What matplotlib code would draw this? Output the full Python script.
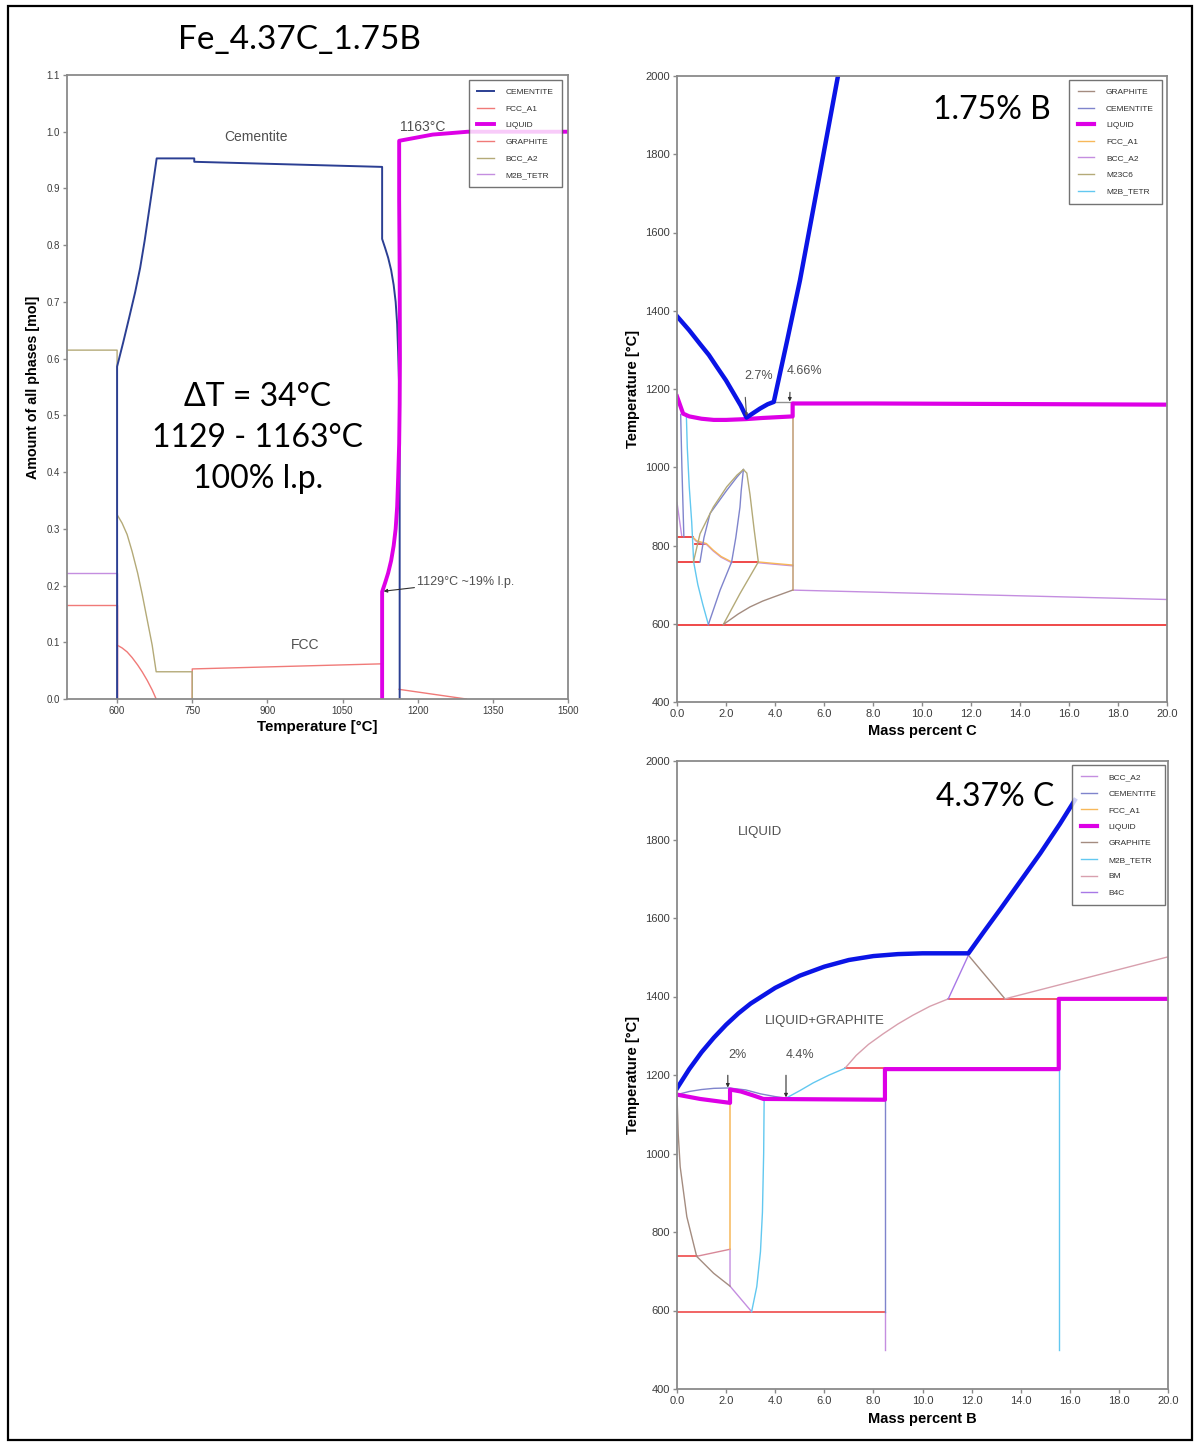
import matplotlib
matplotlib.use("Agg")
import matplotlib.pyplot as plt
from matplotlib.lines import Line2D
from matplotlib.patches import Rectangle

plt.rcParams['font.family'] = ['Liberation Sans', 'DejaVu Sans']

W, H = 1195, 1443

# ---------------- colours ----------------
C_NAVY = "#2b3f93"
C_SALMON = "#f07a78"
C_MAG = "#dd00e6"
C_OLIVE = "#b4aa78"
C_VIOLET = "#c48ee0"
C_BLUE = "#0a14e6"
C_SLATE = "#7f84cc"
C_ORANGE = "#f7b85a"
C_CYAN = "#62c8f0"
C_GRAPH = "#a48c80"
C_RED = "#ee3a3a"
C_TAN = "#c09a72"
C_BM = "#d8a0ae"
C_B4C = "#a878e6"

# ---------------- left panel: amount of phases vs temperature ----------------
cem_T = [600, 600, 612, 624, 636, 646, 655, 664, 672, 679, 754, 754, 1129, 1129, 1135, 1141,
         1147, 1152, 1156, 1159, 1161, 1163, 1164, 1164]
cem_y = [0, 0.586, 0.628, 0.672, 0.717, 0.76, 0.808, 0.862, 0.91, 0.953, 0.953, 0.947, 0.938,
         0.811, 0.795, 0.778, 0.756, 0.73, 0.70, 0.661, 0.61, 0.55, 0.48, 0]
liq_T = [1129, 1129, 1135, 1141, 1147, 1152, 1156, 1159, 1161, 1163, 1164, 1164.5, 1164,
         1163, 1163, 1230, 1300, 1500]
liq_y = [0, 0.189, 0.205, 0.222, 0.244, 0.27, 0.30, 0.339, 0.39, 0.45, 0.52, 0.6, 0.75,
         0.88, 0.984, 0.995, 1.0, 1.0]
bcc_T = [500, 600, 600, 610, 620, 630, 641, 650, 660, 670, 678, 750, 750]
bcc_y = [0.615, 0.615, 0.325, 0.31, 0.29, 0.26, 0.222, 0.185, 0.14, 0.095, 0.048, 0.048, 0]
gra1_T = [500, 600, 600]
gra1_y = [0.165, 0.165, 0]
gra2_T = [600, 610, 620, 630, 641, 650, 660, 670, 678]
gra2_y = [0.095, 0.09, 0.083, 0.073, 0.06, 0.048, 0.033, 0.016, 0]
gra3_T = [1163, 1297]
gra3_y = [0.017, 0]
fcc_T = [750, 750, 1129, 1129]
fcc_y = [0, 0.053, 0.062, 0]
m2b_T = [500, 600, 600]
m2b_y = [0.222, 0.222, 0]

# ---------------- top right: isopleth at 1.75 % B ----------------
liqus_C = [0, 0.5, 0.94, 1.3, 1.62, 2.0, 2.3, 2.6, 2.84, 3.1, 3.39, 3.7, 3.95, 4.5, 5.02, 5.8, 6.57]
liqus_T = [1386, 1350, 1315, 1287, 1257, 1222, 1190, 1158, 1127, 1138, 1150, 1161, 1167,
           1325, 1478, 1740, 2000]
liqC_C = [0, 0.25, 0.5, 1.0, 1.5, 2.0, 2.8, 3.5, 4.72, 4.72, 8, 12, 16, 20]
liqC_T = [1181, 1137, 1130, 1124, 1121, 1121, 1123, 1126, 1130, 1163, 1163, 1162, 1161, 1160]
graC_h_C = [3.95, 4.72]
graC_h_T = [1167, 1167]
graC_c_C = [1.89, 2.5, 2.98, 3.5, 3.93, 4.72]
graC_c_T = [598, 625, 643, 658, 668, 686]
tanC_C = [4.72, 4.72]
tanC_T = [1130, 686]
bccC_C = [4.72, 20]
bccC_T = [686, 662]
bccC2_C = [0, 0.19]
bccC2_T = [910, 826]
fccC1_C = [0.64, 0.8, 1.2, 1.48, 1.8, 2.23]
fccC1_T = [822, 812, 805, 788, 772, 758]
fccC2_C = [3.32, 4.0, 4.72]
fccC2_T = [758, 754, 750]
redC = [  # (C0, C1, T)
    (0, 0.64, 822), (0, 0.91, 758), (0.73, 1.18, 805), (2.23, 3.32, 758), (0, 20, 597)]
m2bC_C = [0.38, 0.42, 0.5, 0.6, 0.68, 0.85, 1.05, 1.28]
m2bC_T = [1137, 1050, 950, 860, 758, 700, 650, 598]
cemC_v_C = [0.15, 0.2, 0.28]
cemC_v_T = [1135, 1000, 822]
cemC_l_C = [0.94, 1.1, 1.35, 2.03, 2.45, 2.71]
cemC_l_T = [758, 820, 882, 941, 975, 994]
cemC_r_C = [2.71, 2.62, 2.57, 2.4, 2.23, 1.76, 1.28]
cemC_r_T = [994, 940, 898, 820, 758, 686, 598]
m23_l_C = [0.67, 0.94, 1.48, 2.03, 2.45, 2.71]
m23_l_T = [758, 830, 898, 950, 980, 994]
m23_r_C = [2.71, 2.85, 2.98, 3.15, 3.32, 2.57, 1.89]
m23_r_T = [994, 985, 930, 840, 758, 677, 598]

# ---------------- bottom right: isopleth at 4.37 % C ----------------
liqusB_B = [0, 0.5, 1, 1.5, 2, 2.5, 3, 4, 5, 6, 7, 8, 9, 10, 11.87,
            12.5, 13.2, 14, 14.8, 15.6, 16.2]
liqusB_T = [1166, 1215, 1258, 1295, 1328, 1357, 1382, 1422, 1453, 1476, 1493, 1503, 1508,
            1510, 1510, 1565, 1625, 1695, 1765, 1840, 1900]
liqB_B = [0, 0.94, 2.16, 2.16, 2.6, 3.1, 3.52, 8.47, 8.47, 15.55, 15.55, 20]
liqB_T = [1150, 1139, 1129, 1163, 1158, 1148, 1139, 1137, 1215, 1215, 1394, 1394]
cemB_arc_B = [0, 0.5, 1.0, 1.5, 2.1, 2.8, 3.4, 4.0, 4.47]
cemB_arc_T = [1150, 1158, 1163, 1166, 1167, 1162, 1152, 1145, 1141]
cemB_v_B = [8.47, 8.47]
cemB_v_T = [1137, 597]
m2bB1_B = [4.44, 5.0, 5.55, 6.2, 6.84]
m2bB1_T = [1141, 1160, 1180, 1200, 1217]
m2bB2_B = [3.55, 3.53, 3.48, 3.40, 3.25, 3.04]
m2bB2_T = [1139, 1000, 850, 750, 661, 597]
m2bB3_B = [15.55, 15.55]
m2bB3_T = [1213, 500]
redB = [  # (B0, B1, T)
    (6.84, 8.47, 1217), (0, 8.47, 597), (0, 0.8, 740), (11.05, 15.55, 1394)]
fccB_B = [2.16, 2.16]
fccB_T = [1160, 756]
fccB2_B = [0.8, 2.16]
fccB2_T = [738, 756]
bccB1_B = [2.16, 2.16, 3.04]
bccB1_T = [756, 662, 597]
bccB2_B = [8.47, 8.47]
bccB2_T = [597, 500]
graB1_B = [0, 0.05, 0.13, 0.4, 0.8, 1.49, 2.16]
graB1_T = [1150, 1050, 966, 839, 738, 695, 662]
graB2_B = [11.87, 13.36]
graB2_T = [1505, 1394]
bm1_B = [6.84, 7.3, 7.8, 8.4, 9.0, 9.6, 10.3, 11.05]
bm1_T = [1217, 1250, 1278, 1305, 1330, 1352, 1375, 1394]
bm2_B = [13.36, 20]
bm2_T = [1394, 1501]
b4c_B = [11.05, 11.87]
b4c_T = [1394, 1505]

TXT = "#3c3c3c"
SPINE = "#8a8a8a"

fig = plt.figure(figsize=(W / 100, H / 100), dpi=100)


def px_axes(l, t, r, b):
    return fig.add_axes([l / W, 1 - b / H, (r - l) / W, (b - t) / H])


def style(ax, fs):
    for s in ax.spines.values():
        s.set_color(SPINE)
        s.set_linewidth(1.3)
    ax.tick_params(direction="out", length=3, width=1, color=SPINE,
                   labelsize=fs, labelcolor=TXT, pad=2)


def legend(ax, entries, anchor):
    handles = [Line2D([], [], color=c, lw=lw) for _, c, lw in entries]
    lg = ax.legend(handles, [n for n, _, _ in entries], loc="upper right",
                   bbox_to_anchor=anchor, fontsize=6, frameon=True, fancybox=False,
                   handlelength=2.0, handletextpad=1.4, labelspacing=1.05,
                   borderpad=1.0, borderaxespad=0)
    lg.get_frame().set_edgecolor("#505050")
    lg.get_frame().set_linewidth(1.0)
    for t in lg.get_texts():
        t.set_color("#303030")
    return lg


# ---------- left panel ----------
ax = px_axes(67, 75, 568, 699)
style(ax, 7)
ax.plot(m2b_T, m2b_y, color=C_VIOLET, lw=1)
ax.plot(gra1_T, gra1_y, color=C_SALMON, lw=1)
ax.plot(gra2_T, gra2_y, color=C_SALMON, lw=1)
ax.plot(gra3_T, gra3_y, color=C_SALMON, lw=1)
ax.plot(fcc_T, fcc_y, color=C_SALMON, lw=1)
ax.plot(bcc_T, bcc_y, color=C_OLIVE, lw=1)
ax.plot(cem_T, cem_y, color=C_NAVY, lw=1.4)
ax.plot(liq_T, liq_y, color=C_MAG, lw=2.8)
ax.set_xlim(500, 1500)
ax.set_ylim(0, 1.1)
ax.set_xticks([600, 750, 900, 1050, 1200, 1350, 1500])
ax.set_yticks([i / 10 for i in range(12)])
ax.set_yticklabels([f"{i / 10:.1f}" for i in range(12)])
ax.set_xlabel("Temperature [°C]", fontsize=10.8, fontweight="bold", labelpad=3)
ax.set_ylabel("Amount of all phases [mol]", fontsize=10.3, fontweight="bold", labelpad=5)
ax.text(877, 0.99, "Cementite", fontsize=10, color="#505050", ha="center", va="center")
ax.text(976, 0.095, "FCC", fontsize=10, color="#505050", ha="center", va="center")
ax.text(1210, 1.009, "1163°C", fontsize=10, color="#505050", ha="center", va="center")
ax.annotate("1129°C ~19% l.p.", xy=(1132, 0.19), xytext=(1199, 0.207),
            fontsize=9, color="#505050", va="center", ha="left",
            arrowprops=dict(arrowstyle="-|>", color="#303030", lw=0.8,
                            mutation_scale=5, shrinkA=0, shrinkB=0))
ax.text(881, 0.46, "ΔT = 34°C\n1129 - 1163°C\n100% l.p.", fontsize=23, family="Lato",
        ha="center", va="center", linespacing=1.45, color="black")
legend(ax, [("CEMENTITE", C_NAVY, 1.4), ("FCC_A1", C_SALMON, 1), ("LIQUID", C_MAG, 2.8),
            ("GRAPHITE", C_SALMON, 1), ("BCC_A2", C_OLIVE, 1), ("M2B_TETR", C_VIOLET, 1)],
       (0.988, 0.992))

# ---------- top right panel ----------
ax = px_axes(677, 76, 1167, 702)
style(ax, 8)
for c0, c1, t in redC:
    ax.plot([c0, c1], [t, t], color=C_RED, lw=1.3)
ax.plot(bccC_C, bccC_T, color=C_VIOLET, lw=1)
ax.plot(bccC2_C, bccC2_T, color=C_VIOLET, lw=1)
ax.plot(fccC1_C, [t - 2 for t in fccC1_T], color=C_VIOLET, lw=1)
ax.plot(fccC2_C, [t - 2 for t in fccC2_T], color=C_VIOLET, lw=1)
ax.plot(fccC1_C, fccC1_T, color=C_ORANGE, lw=1)
ax.plot(fccC2_C, fccC2_T, color=C_ORANGE, lw=1)
ax.plot(m2bC_C, m2bC_T, color=C_CYAN, lw=1)
ax.plot(cemC_v_C, cemC_v_T, color=C_SLATE, lw=1)
ax.plot(cemC_l_C, cemC_l_T, color=C_SLATE, lw=1)
ax.plot(cemC_r_C, cemC_r_T, color=C_SLATE, lw=1)
ax.plot(m23_l_C, m23_l_T, color=C_OLIVE, lw=1)
ax.plot(m23_r_C, m23_r_T, color=C_OLIVE, lw=1)
ax.plot(graC_c_C, graC_c_T, color=C_GRAPH, lw=1)
ax.plot(graC_h_C, graC_h_T, color="#909090", lw=1)
ax.plot(tanC_C, tanC_T, color=C_TAN, lw=1.1)
ax.plot(liqC_C, liqC_T, color=C_MAG, lw=3)
ax.plot(liqus_C, liqus_T, color=C_BLUE, lw=3.2)
ax.set_xlim(0, 20)
ax.set_ylim(400, 2000)
ax.set_xticks(range(0, 21, 2))
ax.set_xticklabels([f"{v:.1f}" for v in range(0, 21, 2)])
ax.set_yticks(range(400, 2001, 200))
ax.set_xlabel("Mass percent C", fontsize=10.5, fontweight="bold", labelpad=4)
ax.set_ylabel("Temperature [°C]", fontsize=10.5, fontweight="bold", labelpad=4)
ax.annotate("2.7%", xy=(2.84, 1130), xytext=(2.73, 1233), fontsize=9, color="#505050",
            ha="left", va="center",
            arrowprops=dict(arrowstyle="-|>", color="#505050", lw=0.8, mutation_scale=4,
                            shrinkA=9, shrinkB=0, relpos=(0, 0.5)))
ax.annotate("4.66%", xy=(4.6, 1168), xytext=(4.49, 1246), fontsize=9, color="#505050",
            ha="left", va="center",
            arrowprops=dict(arrowstyle="-|>", color="#303030", lw=0.8, mutation_scale=5,
                            shrinkA=9, shrinkB=0, relpos=(0.1, 0.5)))
ax.text(12.86, 1913, "1.75% B", fontsize=23, family="Lato", ha="center", va="center")
legend(ax, [("GRAPHITE", C_GRAPH, 1), ("CEMENTITE", C_SLATE, 1), ("LIQUID", C_MAG, 3),
            ("FCC_A1", C_ORANGE, 1), ("BCC_A2", C_VIOLET, 1), ("M23C6", C_OLIVE, 1),
            ("M2B_TETR", C_CYAN, 1)], (0.990, 0.994))

# ---------- bottom right panel ----------
ax = px_axes(677, 761, 1168, 1389)
style(ax, 8)
for b0, b1, t in redB:
    ax.plot([b0, b1], [t, t], color=C_RED, lw=1.1)
ax.plot(fccB2_B, fccB2_T, color="#d88898", lw=1)
ax.plot(bccB1_B, bccB1_T, color=C_VIOLET, lw=1)
ax.plot(bccB2_B, bccB2_T, color=C_VIOLET, lw=1)
ax.plot(fccB_B, fccB_T, color=C_ORANGE, lw=1.1)
ax.plot(graB1_B, graB1_T, color=C_GRAPH, lw=1)
ax.plot(graB2_B, graB2_T, color=C_GRAPH, lw=1)
ax.plot(bm1_B, bm1_T, color=C_BM, lw=1)
ax.plot(bm2_B, bm2_T, color=C_BM, lw=1)
ax.plot(b4c_B, b4c_T, color=C_B4C, lw=1)
ax.plot(m2bB1_B, m2bB1_T, color=C_CYAN, lw=1)
ax.plot(m2bB2_B, m2bB2_T, color=C_CYAN, lw=1)
ax.plot(m2bB3_B, m2bB3_T, color=C_CYAN, lw=1)
ax.plot(cemB_arc_B, cemB_arc_T, color=C_SLATE, lw=1)
ax.plot(cemB_v_B, cemB_v_T, color=C_SLATE, lw=1)
ax.plot(liqB_B, liqB_T, color=C_MAG, lw=3)
ax.plot(liqusB_B, liqusB_T, color=C_BLUE, lw=3.2)
ax.set_xlim(0, 20)
ax.set_ylim(400, 2000)
ax.set_xticks(range(0, 21, 2))
ax.set_xticklabels([f"{v:.1f}" for v in range(0, 21, 2)])
ax.set_yticks(range(400, 2001, 200))
ax.set_xlabel("Mass percent B", fontsize=10.5, fontweight="bold", labelpad=4)
ax.set_ylabel("Temperature [°C]", fontsize=10.5, fontweight="bold", labelpad=4)
ax.text(3.38, 1819, "LIQUID", fontsize=9.5, color="#505050", ha="center", va="center")
ax.text(6.03, 1338, "LIQUID+GRAPHITE", fontsize=9.5, color="#505050", ha="center", va="center")
ax.annotate("2%", xy=(2.07, 1168), xytext=(2.07, 1250), fontsize=9, color="#505050",
            ha="left", va="center",
            arrowprops=dict(arrowstyle="-|>", color="#303030", lw=0.8, mutation_scale=5,
                            shrinkA=8, shrinkB=0, relpos=(0, 0.5)))
ax.annotate("4.4%", xy=(4.44, 1143), xytext=(4.44, 1250), fontsize=9, color="#505050",
            ha="left", va="center",
            arrowprops=dict(arrowstyle="-|>", color="#303030", lw=0.8, mutation_scale=5,
                            shrinkA=8, shrinkB=0, relpos=(0, 0.5)))
ax.text(12.95, 1908, "4.37% C", fontsize=23, family="Lato", ha="center", va="center")
legend(ax, [("BCC_A2", C_VIOLET, 1), ("CEMENTITE", C_SLATE, 1), ("FCC_A1", C_ORANGE, 1),
            ("LIQUID", C_MAG, 3), ("GRAPHITE", C_GRAPH, 1), ("M2B_TETR", C_CYAN, 1),
            ("BM", C_BM, 1), ("B4C", C_B4C, 1)], (0.994, 0.994))

# ---------- title and frame ----------
fig.text(299 / W, 1 - 40 / H, "Fe_4.37C_1.75B", fontsize=24, family="Lato",
         ha="center", va="center")
fig.add_artist(Rectangle((8 / W, 1 - 1440 / H), (1192 - 8) / W, (1440 - 6) / H,
                         transform=fig.transFigure, fill=False, ec="black", lw=1.6))

fig.savefig("out.png", dpi=100)
